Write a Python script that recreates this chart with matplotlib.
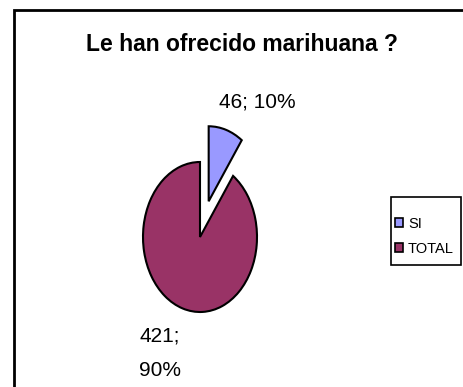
import matplotlib
matplotlib.use("Agg")
import matplotlib.pyplot as plt
from matplotlib.patches import Rectangle

# datos de la encuesta
labels = ["SI", "TOTAL"]
values = [46, 421]
colors = ["#9999FF", "#993366"]
title = "Le han ofrecido marihuana ?"

total = sum(values)
pct = [round(100 * v / total) for v in values]

plt.rcParams["font.family"] = ["Liberation Sans", "DejaVu Sans"]

fig = plt.figure(figsize=(4.64, 3.87), dpi=100)

# marco del grafico (sale por la derecha y por abajo)
fig.patches.append(Rectangle((14 / 464, -0.1), 1.2, 1.1 - 10 / 387,
                             transform=fig.transFigure, fill=False,
                             edgecolor="black", linewidth=2))

fig.text(0.522, 0.885, title, ha="center", va="center",
         fontsize=16.5, fontweight="bold")

ax = fig.add_axes([86 / 464, 0, 228 / 464, 300 / 387])
wedges, _ = ax.pie(values, colors=colors, explode=(0.5, 0), startangle=90,
                   counterclock=False,
                   wedgeprops=dict(edgecolor="black", linewidth=1.5))
ax.set_aspect("auto")
ax.set_xlim(-2, 2)
ax.set_ylim(-2, 2)

ax.text(1.0, 1.8, f"{values[0]}; {pct[0]}%", ha="center", va="center", fontsize=15)
ax.text(-0.7, -1.55, f"{values[1]};\n{pct[1]}%", ha="center", va="center",
        fontsize=15, linespacing=2.1)

# recuadro de la leyenda
fig.patches.append(Rectangle((391 / 464, 1 - 265 / 387), 70 / 464, 68 / 387,
                             transform=fig.transFigure, fill=False,
                             edgecolor="black", linewidth=1.2))

leg = fig.legend(wedges, labels, loc="center left",
                 bbox_to_anchor=(392 / 464, 1 - 236.5 / 387),
                 fontsize=10.5, frameon=False, handlelength=0.55,
                 handleheight=0.55, handletextpad=0.35, labelspacing=0.75,
                 borderpad=0.2, borderaxespad=0)
for h in leg.legend_handles:
    h.set_linewidth(1.2)

fig.savefig("out.png", dpi=100)
